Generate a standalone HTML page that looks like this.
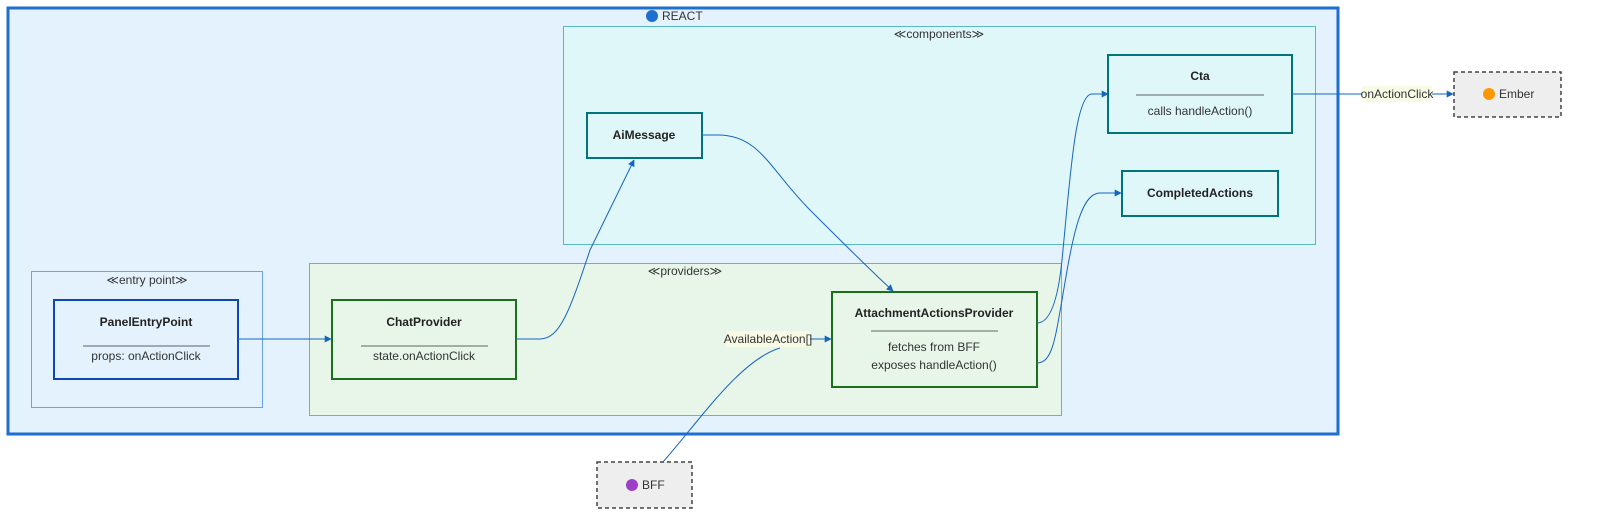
<!DOCTYPE html>
<html><head><style>
html,body{margin:0;padding:0;background:#fff;overflow:hidden;width:1600px;height:525px;}
svg{display:block;}
svg text{font-family:"Liberation Sans",sans-serif;}
</style></head><body>
<svg width="1600" height="525" viewBox="0 0 1600 525" xmlns="http://www.w3.org/2000/svg">
<defs>
<marker id="a" viewBox="0 0 10 10" refX="9" refY="5" markerWidth="7" markerHeight="7" orient="auto"><path d="M0,0L10,5L0,10z" fill="#1565c0"/></marker>
</defs>
<rect x="8" y="8" width="1330" height="426" fill="#e3f2fd" stroke="#1e6fd0" stroke-width="3"/>
<circle cx="652" cy="16" r="6" fill="#1e6fd0"/>
<text x="662" y="20" font-size="12" fill="#333">REACT</text>
<rect x="563.5" y="26.5" width="752" height="218" fill="#e0f7fa" stroke="#5ab8c4"/>
<text x="939" y="38" font-size="12" fill="#333" text-anchor="middle">≪components≫</text>
<rect x="309.5" y="263.5" width="752" height="152" fill="#e8f5e9" stroke="#7cb682"/>
<text x="685" y="275" font-size="12" fill="#333" text-anchor="middle">≪providers≫</text>
<rect x="31.5" y="271.5" width="231" height="136" fill="none" stroke="#6aa4e6"/>
<text x="147" y="284" font-size="12" fill="#333" text-anchor="middle">≪entry point≫</text>

<rect x="54" y="300" width="184" height="79" fill="#e3f2fd" stroke="#0d47b1" stroke-width="2"/>
<text x="146" y="326" font-size="12" font-weight="bold" text-anchor="middle" fill="#222">PanelEntryPoint</text>
<line x1="83" y1="346" x2="210" y2="346" stroke="#333" stroke-width="0.8"/>
<text x="146" y="360" font-size="12" text-anchor="middle" fill="#333">props: onActionClick</text>

<rect x="332" y="300" width="184" height="79" fill="#e8f5e9" stroke="#1b6e1b" stroke-width="2"/>
<text x="424" y="326" font-size="12" font-weight="bold" text-anchor="middle" fill="#222">ChatProvider</text>
<line x1="361" y1="346" x2="488" y2="346" stroke="#333" stroke-width="0.8"/>
<text x="424" y="360" font-size="12" text-anchor="middle" fill="#333">state.onActionClick</text>

<rect x="587" y="113" width="115" height="45" fill="#e0f7fa" stroke="#00737b" stroke-width="2"/>
<text x="644" y="139" font-size="12" font-weight="bold" text-anchor="middle" fill="#222">AiMessage</text>

<rect x="1108" y="55" width="184" height="78" fill="#e0f7fa" stroke="#00737b" stroke-width="2"/>
<text x="1200" y="80" font-size="12" font-weight="bold" text-anchor="middle" fill="#222">Cta</text>
<line x1="1136" y1="95" x2="1264" y2="95" stroke="#333" stroke-width="0.8"/>
<text x="1200" y="115" font-size="12" text-anchor="middle" fill="#333">calls handleAction()</text>

<rect x="1122" y="171" width="156" height="45" fill="#e0f7fa" stroke="#00737b" stroke-width="2"/>
<text x="1200" y="197" font-size="12" font-weight="bold" text-anchor="middle" fill="#222">CompletedActions</text>

<rect x="832" y="292" width="205" height="95" fill="#e8f5e9" stroke="#1b6e1b" stroke-width="2"/>
<text x="934" y="317" font-size="12" font-weight="bold" text-anchor="middle" fill="#222">AttachmentActionsProvider</text>
<line x1="871" y1="331" x2="998" y2="331" stroke="#333" stroke-width="0.8"/>
<text x="934" y="351" font-size="12" text-anchor="middle" fill="#333">fetches from BFF</text>
<text x="934" y="369" font-size="12" text-anchor="middle" fill="#333">exposes handleAction()</text>

<rect x="1454" y="72" width="107" height="45" fill="#eeeeee" stroke="#444" stroke-width="1.5" stroke-dasharray="4 3"/>
<circle cx="1489" cy="94" r="6" fill="#ff9800"/>
<text x="1499" y="98" font-size="12" fill="#333">Ember</text>

<rect x="597" y="462" width="95" height="46" fill="#eeeeee" stroke="#444" stroke-width="1.5" stroke-dasharray="4 3"/>
<circle cx="632" cy="485" r="6" fill="#9c3ec8"/>
<text x="642" y="489" font-size="12" fill="#333">BFF</text>

<g fill="none" stroke="#1565c0" stroke-width="1" marker-end="url(#a)">
<path d="M238,339L331,339"/>
<path d="M516,339L540,339C560,339 570,310 590,250L634,160"/>
<path d="M702,135L718,135C760,135 770,170 810,210C840,240 870,270 893,291"/>
<path d="M1037,323C1050,323 1058,300 1062,260C1070,180 1075,94 1092,94L1108,94"/>
<path d="M1037,363C1052,363 1055,340 1062,300C1072,240 1080,193 1100,193L1121,193"/>
<path d="M1292,94L1453,94"/>
<path d="M810,339L831,339"/>
</g>
<path d="M663,462C700,420 740,360 780,348" fill="none" stroke="#1565c0" stroke-width="1"/>
<rect x="1362" y="86" width="70" height="16" fill="#f7fbe6"/>
<text x="1397" y="98" font-size="12" text-anchor="middle" fill="#333">onActionClick</text>
<rect x="726" y="331" width="84" height="16" fill="#f7fbe6"/>
<text x="768" y="343" font-size="12" text-anchor="middle" fill="#333">AvailableAction[]</text>
</svg>
</body></html>
